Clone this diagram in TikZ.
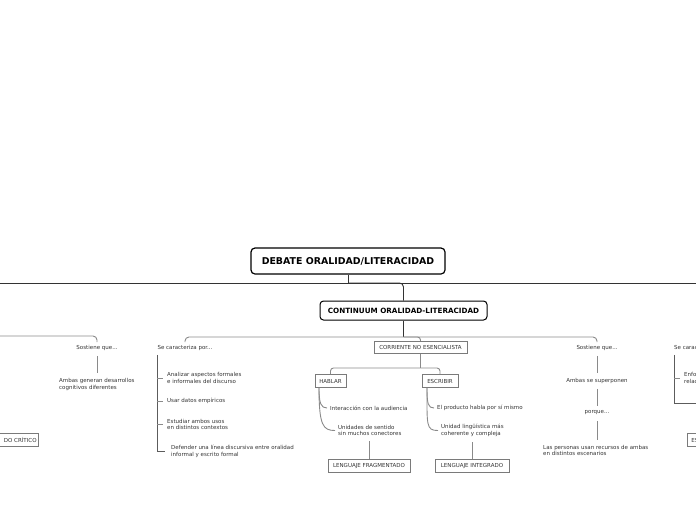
\documentclass[tikz,border=0pt]{standalone}
\usepackage{fontspec}
\setmainfont{DejaVu Sans}
\usetikzlibrary{calc}
\definecolor{trunkc}{HTML}{333333}
\definecolor{linec}{HTML}{8A8A8A}
\definecolor{boxc}{HTML}{7A7A7A}
\definecolor{txtc}{HTML}{333333}
\begin{document}
\begin{tikzpicture}[x=1pt,y=-1pt,
  rootbox/.style={draw=black, line width=1.2pt, rounded corners=4pt, fill=white, inner sep=0pt,
    font=\fontsize{9.4}{11}\selectfont\bfseries, minimum width=194pt, minimum height=26pt},
  contbox/.style={draw=black, line width=1pt, rounded corners=3.5pt, fill=white, inner sep=0pt,
    font=\fontsize{7.2}{9}\selectfont\bfseries, minimum width=167pt, minimum height=19pt},
  tagbox/.style={draw=boxc, line width=0.8pt, fill=white, inner sep=0pt, text=txtc,
    font=\fontsize{5.5}{6.8}\selectfont, minimum height=12.5pt},
  txt/.style={inner sep=0pt, text=txtc, align=left, font=\fontsize{5.5}{6.8}\selectfont},
  trunk/.style={draw=trunkc, line width=0.9pt},
  conn/.style={draw=linec, line width=0.9pt},
  spine/.style={draw=trunkc!80, line width=0.9pt}
]
\useasboundingbox (0,0) rectangle (696,520);

% main nodes
\node[rootbox] (root) at (348,261) {DEBATE ORALIDAD/LITERACIDAD};
\node[contbox] (cont) at (403.5,310.5) {CONTINUUM ORALIDAD-LITERACIDAD};
\node[tagbox, minimum width=93pt] (corr) at (420.5,347.5) {CORRIENTE NO ESENCIALISTA};
\node[tagbox, minimum width=31pt] (hablar) at (330.5,381) {HABLAR};
\node[tagbox, minimum width=36pt] (escribir) at (440,381) {ESCRIBIR};
\node[tagbox, minimum width=82pt] (lf) at (369,466) {LENGUAJE FRAGMENTADO};
\node[tagbox, minimum width=74pt] (li) at (472,466) {LENGUAJE INTEGRADO};
\node[tagbox, anchor=east, text width=56pt, inner xsep=2pt, align=right] (crit) at (39,440) {DO CRÍTICO};
\node[tagbox, anchor=west, text width=56pt, inner xsep=4pt, align=left] (esr) at (687,440) {ESTUDIO};

% text nodes
\node[txt] (s0) at (97,348) {Sostiene que...};
\node[txt, anchor=west] (b0) at (59,384.5) {Ambas generan desarrollos\\cognitivos diferentes};
\node[txt] (s1) at (185,348) {Se caracteriza por...};
\node[txt, anchor=west] (a1) at (167,378) {Analizar aspectos formales\\e informales del discurso};
\node[txt, anchor=west] (a2) at (167,401) {Usar datos empíricos};
\node[txt, anchor=west] (a3) at (167,424.5) {Estudiar ambos usos\\en distintos contextos};
\node[txt, anchor=west] (a4) at (171,451) {Defender una línea discursiva entre oralidad\\informal y escrito formal};
\node[txt, anchor=west] (i1) at (330,408) {Interacción con la audiencia};
\node[txt, anchor=west] (i2) at (338,430.5) {Unidades de sentido\\sin muchos conectores};
\node[txt, anchor=west] (i3) at (437,408) {El producto habla por sí mismo};
\node[txt, anchor=west] (i4) at (441,430.5) {Unidad lingüística más\\coherente y compleja};
\node[txt] (s2) at (597,348) {Sostiene que...};
\node[txt] (b2) at (597,381) {Ambas se superponen};
\node[txt] (p2) at (597,413) {porque...};
\node[txt, anchor=west] (c2) at (543,450.5) {Las personas usan recursos de ambas\\en distintos escenarios};
\node[txt, anchor=west] (s3) at (674,348) {Se caracteriza por...};
\node[txt, anchor=west] (e3) at (684,378) {Enfocarse en\\relaciones};

% trunk
\coordinate (tl) at (0,283);
\coordinate (tr) at (696,283);
\draw[trunk] (tl) -- (tr);
\draw[trunk] (root.south) -- (root.south |- tl);
\draw[trunk, rounded corners=4pt] (root.south |- tl) -| (cont.north);

% left branch from off-picture
\coordinate (lb) at (0,336);
\draw[conn, rounded corners=4pt] (lb) -| ($(s0.north)+(0,-3)$);
\draw[conn] ($(s0.south)+(0,5)$) -- ($(s0.south |- b0.north)+(0,-5)$);

% continuum branches
\coordinate (cb) at (403.5,337);
\draw[trunk] (cont.south) -- (cb);
\draw[conn, rounded corners=4pt] (cb) -| ($(s1.north)+(0,-3)$);
\draw[conn, rounded corners=4pt] (cb) -| ($(s2.north)+(0,-3)$);
\draw[conn, rounded corners=3pt] (cb) -| (corr.north);

% se caracteriza (left)
\coordinate (sp1) at ($(s1.south west)+(0,4)$);
\draw[spine] (sp1) |- ($(a4.west)+(-6,0)$);
\draw[conn] (sp1 |- a1.west) -- ($(a1.west)+(-4,0)$);
\draw[conn] (sp1 |- a2.west) -- ($(a2.west)+(-4,0)$);
\draw[conn] (sp1 |- a3.west) -- ($(a3.west)+(-4,0)$);

% corriente no esencialista
\coordinate (hb) at (420.5,368);
\draw[conn] (corr.south) -- (hb);
\draw[conn, rounded corners=3pt] (hb) -| (hablar.north);
\draw[conn, rounded corners=3pt] (hb) -| (escribir.north);

% hablar
\draw[conn] ($(hablar.south)+(-11.5,0)$) .. controls +(0,16) and +(-6,0) .. ($(i1.west)+(-3,0)$);
\draw[conn] ($(hablar.south)+(-11.5,0)$) .. controls +(0,38) and +(-12,0) .. ($(i2.west)+(-3,0)$);
\draw[conn] (lf.north) -- ($(lf.north |- i2.south)+(0,5)$);

% escribir
\draw[conn] ($(escribir.south)+(-13,0)$) .. controls +(0,16) and +(-6,0) .. ($(i3.west)+(-3,0)$);
\draw[conn] ($(escribir.south)+(-13,0)$) .. controls +(0,38) and +(-12,0) .. ($(i4.west)+(-3,0)$);
\draw[conn] (li.north) -- ($(li.north |- i4.south)+(0,5)$);

% sostiene que (right)
\draw[conn] ($(s2.south)+(0,5)$) -- ($(b2.north)+(0,-5)$);
\draw[conn] ($(b2.south)+(0,5)$) -- ($(p2.north)+(0,-5)$);
\draw[conn] ($(p2.south)+(0,6)$) -- ($(p2.south |- c2.north)+(0,-5)$);

% se caracteriza (right)
\coordinate (sp3) at ($(s3.south west)+(0,4)$);
\coordinate (sp3e) at (700,403);
\draw[spine] (sp3) |- (sp3e);
\draw[conn] (sp3 |- e3.west) -- ($(e3.west)+(-4,0)$);
\end{tikzpicture}
\end{document}
